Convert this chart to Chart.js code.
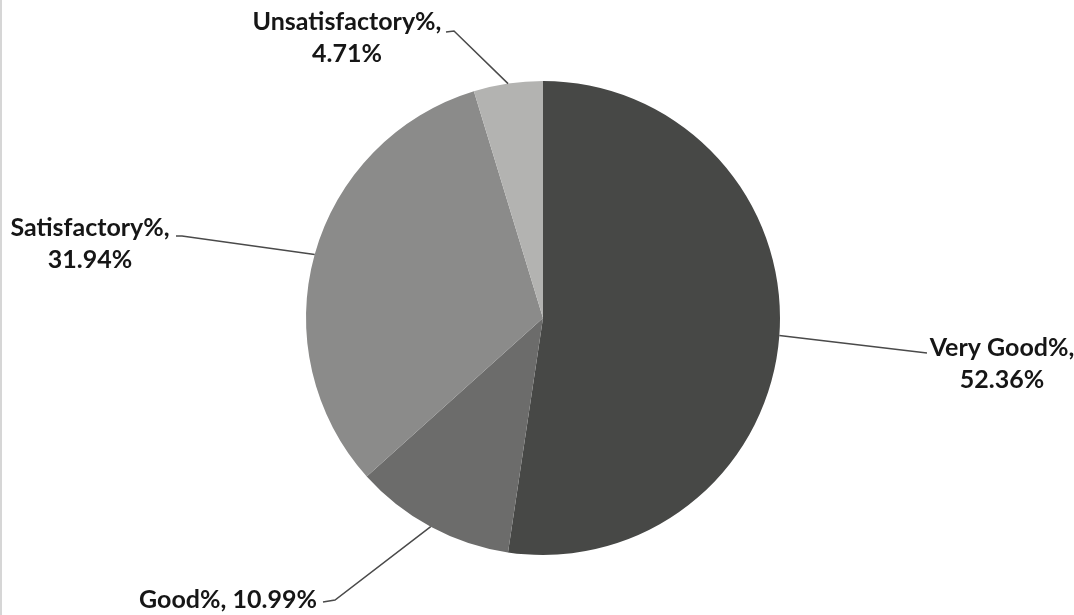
<!DOCTYPE html>
<html>
<head>
<meta charset="utf-8">
<script src="https://cdn.jsdelivr.net/npm/chart.js@4/dist/chart.umd.min.js"></script>
<style>
  html, body { margin: 0; padding: 0; background: #fff; }
  #wrap { width: 1074px; height: 615px; position: relative; border-left: 2px solid #d6d6d6; box-sizing: border-box; }
</style>
</head>
<body>
<div id="wrap"><canvas id="ratingPie"></canvas></div>
<script>
// Rating shares (percent)
const categories = ["Very Good", "Good", "Satisfactory", "Unsatisfactory"];
const shares = [52.36, 10.99, 31.94, 4.71];

const sliceColors = ["#474846", "#6c6c6b", "#8b8b8a", "#b3b3b1"];

// where each callout text sits and where its leader line ends
const callouts = [
    { x: 1000, y: 348, lines: 2, anchorX: 925, anchorY: 353, kneeX: 925, kneeY: 353 },
    { x: 226, y: 600, lines: 1, anchorX: 321, anchorY: 602, kneeX: 333, kneeY: 600 },
    { x: 88, y: 228, lines: 2, anchorX: 174, anchorY: 236, kneeX: 180, kneeY: 236 },
    { x: 345, y: 22, lines: 2, anchorX: 444, anchorY: 32, kneeX: 452, kneeY: 31 }
];

const calloutPlugin = {
    id: "callouts",
    afterDatasetsDraw(chart) {
        const ctx = chart.ctx;
        const arcs = chart.getDatasetMeta(0).data;
        ctx.save();
        arcs.forEach((arc, i) => {
            const c = callouts[i];
            const mid = (arc.startAngle + arc.endAngle) / 2;
            const px = arc.x + Math.cos(mid) * arc.outerRadius;
            const py = arc.y + Math.sin(mid) * arc.outerRadius;

            ctx.strokeStyle = "#4a4a4a";
            ctx.lineWidth = 1.5;
            ctx.beginPath();
            ctx.moveTo(c.anchorX, c.anchorY);
            ctx.lineTo(c.kneeX, c.kneeY);
            ctx.lineTo(px, py);
            ctx.stroke();

            ctx.fillStyle = "#161616";
            ctx.font = "bold 25px Lato";
            ctx.textAlign = "center";
            ctx.textBaseline = "middle";
            const name = categories[i] + "%,";
            const pct = shares[i].toFixed(2) + "%";
            if (c.lines === 2) {
                ctx.fillText(name, c.x, c.y);
                ctx.fillText(pct, c.x, c.y + 32);
            } else {
                ctx.fillText(name + " " + pct, c.x, c.y);
            }
        });
        ctx.restore();
    }
};

const ctx = document.getElementById("ratingPie").getContext("2d");
new Chart(ctx, {
    type: "pie",
    data: {
        labels: categories,
        datasets: [{
            data: shares,
            backgroundColor: sliceColors,
            borderWidth: 0
        }]
    },
    options: {
        responsive: true,
        maintainAspectRatio: false,
        animation: false,
        layout: {
            padding: { left: 298, right: 288, top: 81, bottom: 60 }
        },
        plugins: {
            legend: { display: false },
            tooltip: { enabled: false }
        }
    },
    plugins: [calloutPlugin]
});
</script>
</body>
</html>
